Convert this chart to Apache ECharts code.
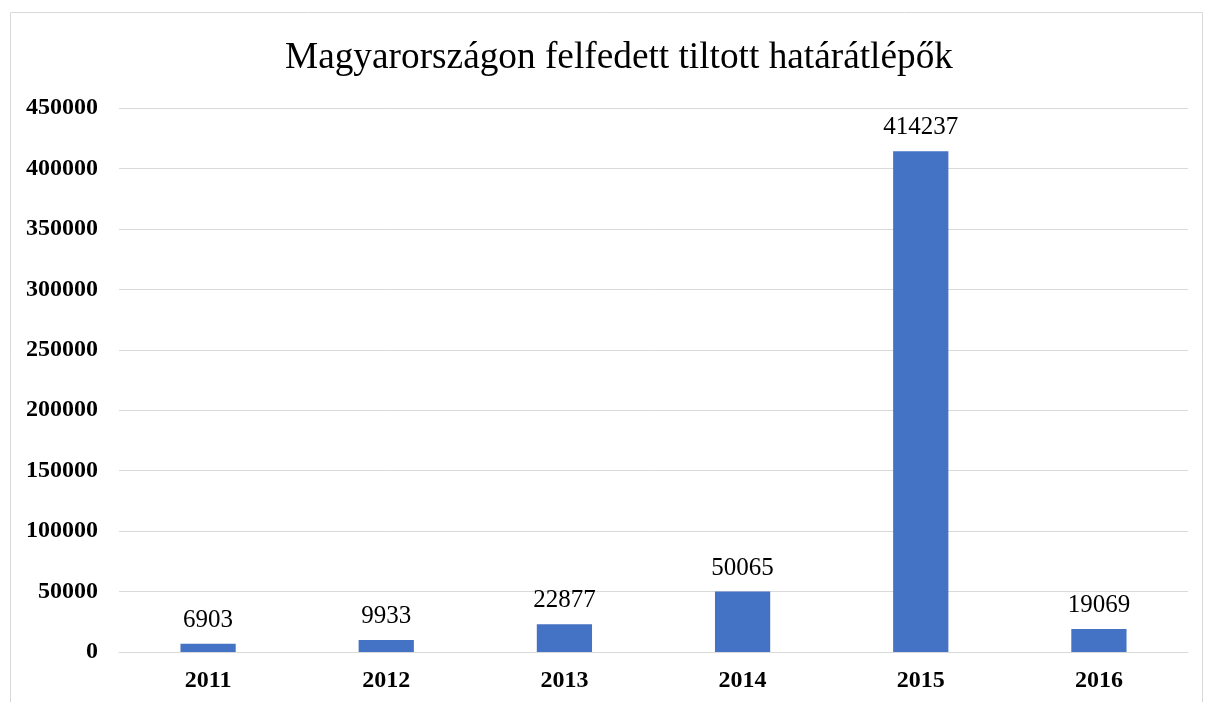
<!DOCTYPE html>
<html><head><meta charset="utf-8">
<script src="https://cdn.jsdelivr.net/npm/echarts@6/dist/echarts.min.js"></script>
<style>html,body{margin:0;padding:0;background:#fff}#c{width:1205px;height:702px}</style>
</head><body><div id="c"></div>
<script>
const years = ['2011','2012','2013','2014','2015','2016'];
const values = [6903, 9933, 22877, 50065, 414237, 19069];
const titleText = 'Magyarországon felfedett tiltott határátlépők';
const font = '"Liberation Serif", "Times New Roman", serif';
const chart = echarts.init(document.getElementById('c'));
chart.setOption({
  animation: false,
  title: {text: titleText, left: 280, top: 35, textStyle: {fontFamily: font, fontSize: 37.3, fontWeight: 'normal', color: '#000'}},
  graphic: [{type: 'rect', shape: {x: 10.5, y: 12.5, width: 1192, height: 720}, style: {fill: 'none', stroke: '#d9d9d9', lineWidth: 1}, silent: true}],
  grid: {left: 119, right: 17, top: 108, bottom: 50},
  xAxis: {type: 'category', data: years,
    axisLine: {show: true, lineStyle: {color: '#d9d9d9'}}, axisTick: {show: false},
    axisLabel: {fontFamily: font, fontSize: 24, fontWeight: 'bold', color: '#000', margin: 17}},
  yAxis: {type: 'value', min: 0, max: 450000, interval: 50000,
    axisLine: {show: false}, axisTick: {show: false},
    splitLine: {lineStyle: {color: '#d9d9d9', width: 1}},
    axisLabel: {fontFamily: font, fontSize: 24, fontWeight: 'bold', color: '#000', margin: 21,
      formatter: v => String(v)}},
  series: [{type: 'bar', data: values, barWidth: '31%', itemStyle: {color: '#4472c4'},
    label: {show: true, position: 'top', distance: 11, fontFamily: font, fontSize: 25, color: '#000'}}]
});
</script></body></html>
